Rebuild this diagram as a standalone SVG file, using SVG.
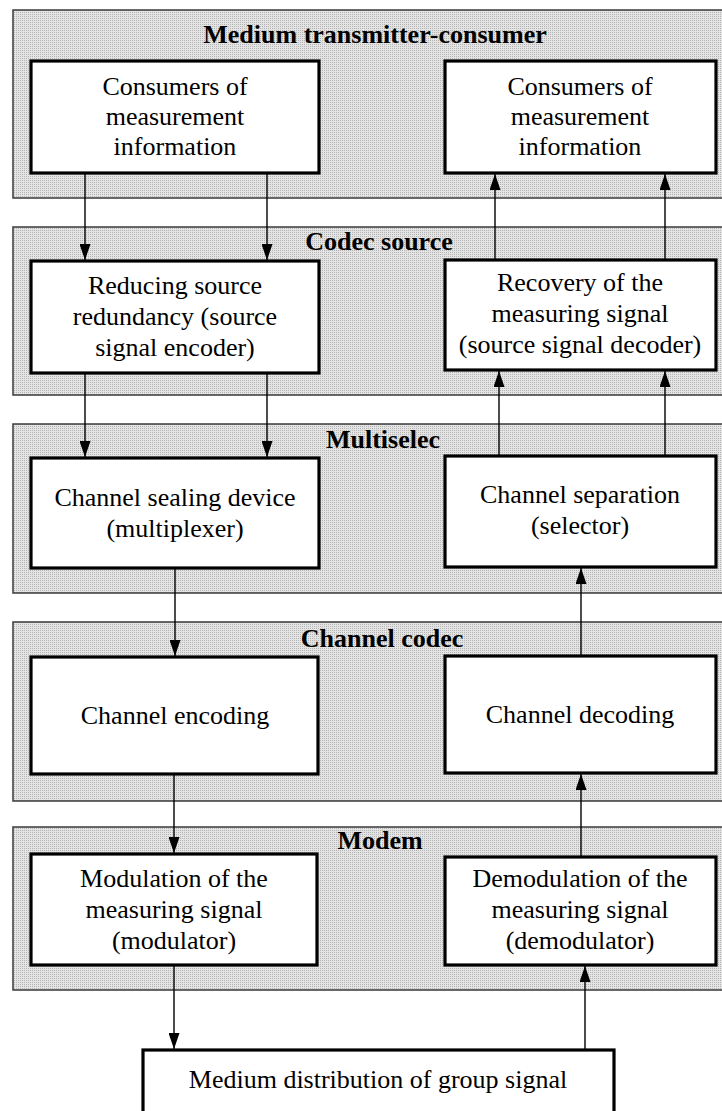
<svg xmlns="http://www.w3.org/2000/svg" width="722" height="1111" viewBox="0 0 722 1111">
<defs>
<pattern id="dots" patternUnits="userSpaceOnUse" width="2" height="2">
<rect width="2" height="2" fill="#e4e4e4"/>
<rect width="1" height="1" fill="#b4b4b4"/>
</pattern>
<marker id="ah" viewBox="0 0 16 11" refX="16" refY="5.5" markerWidth="16" markerHeight="11" markerUnits="userSpaceOnUse" orient="auto">
<path d="M0,0 L16,5.5 L0,11 Z" fill="#000"/>
</marker>
<style>
.panel{fill:url(#dots);stroke:#3a3a3a;stroke-width:1.5}
.box{fill:#fff;stroke:#000;stroke-width:3.2}
.t{font-family:"Liberation Serif","Times New Roman",serif;font-size:26px;fill:#000;text-anchor:middle}
.h{font-family:"Liberation Serif","Times New Roman",serif;font-size:26px;font-weight:bold;fill:#000;text-anchor:middle}
.c{fill:none;stroke:#000;stroke-width:1.4;marker-end:url(#ah)}
</style>
</defs>
<rect width="722" height="1111" fill="#fff"/>

<g id="panel-medium">
<rect class="panel" x="13" y="10" width="730" height="188"/>
<text class="h" x="375" y="43">Medium transmitter-consumer</text>
</g>
<g id="panel-codec-source">
<rect class="panel" x="13" y="227" width="730" height="168"/>
<text class="h" x="379" y="250">Codec source</text>
</g>
<g id="panel-multiselec">
<rect class="panel" x="13" y="424" width="730" height="169"/>
<text class="h" x="383" y="448">Multiselec</text>
</g>
<g id="panel-channel-codec">
<rect class="panel" x="13" y="622" width="730" height="179"/>
<text class="h" x="382" y="647">Channel codec</text>
</g>
<g id="panel-modem">
<rect class="panel" x="13" y="827" width="730" height="163"/>
<text class="h" x="380" y="849">Modem</text>
</g>

<g id="consumers-left">
<rect class="box" x="31" y="61" width="288" height="112"/>
<text class="t" x="175" y="95">Consumers of</text>
<text class="t" x="175" y="125">measurement</text>
<text class="t" x="175" y="155">information</text>
</g>
<g id="consumers-right">
<rect class="box" x="445" y="61" width="271" height="112"/>
<text class="t" x="580" y="95">Consumers of</text>
<text class="t" x="580" y="125">measurement</text>
<text class="t" x="580" y="155">information</text>
</g>
<g id="source-encoder">
<rect class="box" x="31" y="261" width="288" height="112"/>
<text class="t" x="175" y="294">Reducing source</text>
<text class="t" x="175" y="325">redundancy (source</text>
<text class="t" x="175" y="356">signal encoder)</text>
</g>
<g id="source-decoder">
<rect class="box" x="445" y="260" width="271" height="110"/>
<text class="t" x="580" y="291">Recovery of the</text>
<text class="t" x="580" y="322">measuring signal</text>
<text class="t" x="580" y="353">(source signal decoder)</text>
</g>
<g id="multiplexer">
<rect class="box" x="31" y="458" width="288" height="110"/>
<text class="t" x="175" y="506">Channel sealing device</text>
<text class="t" x="175" y="537">(multiplexer)</text>
</g>
<g id="selector">
<rect class="box" x="445" y="456" width="271" height="111"/>
<text class="t" x="580" y="503">Channel separation</text>
<text class="t" x="580" y="534">(selector)</text>
</g>
<g id="channel-encoding">
<rect class="box" x="31" y="657" width="287" height="117"/>
<text class="t" x="175" y="724">Channel encoding</text>
</g>
<g id="channel-decoding">
<rect class="box" x="445" y="656" width="271" height="117"/>
<text class="t" x="580" y="723">Channel decoding</text>
</g>
<g id="modulator">
<rect class="box" x="31" y="854" width="286" height="111"/>
<text class="t" x="174" y="887">Modulation of the</text>
<text class="t" x="174" y="918">measuring signal</text>
<text class="t" x="174" y="949">(modulator)</text>
</g>
<g id="demodulator">
<rect class="box" x="445" y="857" width="271" height="108"/>
<text class="t" x="580" y="887">Demodulation of the</text>
<text class="t" x="580" y="918">measuring signal</text>
<text class="t" x="580" y="949">(demodulator)</text>
</g>
<g id="medium-distribution">
<rect class="box" x="143" y="1050" width="471" height="80"/>
<text class="t" x="378" y="1088">Medium distribution of group signal</text>
</g>

<g id="connectors">
<line class="c" x1="85" y1="174" x2="85" y2="260"/>
<line class="c" x1="267" y1="174" x2="267" y2="260"/>
<line class="c" x1="85" y1="374" x2="85" y2="457"/>
<line class="c" x1="267" y1="374" x2="267" y2="457"/>
<line class="c" x1="175" y1="569" x2="175" y2="656"/>
<line class="c" x1="174" y1="775" x2="174" y2="853"/>
<line class="c" x1="174" y1="966" x2="174" y2="1049"/>
<line class="c" x1="585" y1="1049" x2="585" y2="966"/>
<line class="c" x1="581" y1="856" x2="581" y2="774"/>
<line class="c" x1="581" y1="655" x2="581" y2="568"/>
<line class="c" x1="499" y1="455" x2="499" y2="371"/>
<line class="c" x1="665" y1="455" x2="665" y2="371"/>
<line class="c" x1="495" y1="259" x2="495" y2="174"/>
<line class="c" x1="665" y1="259" x2="665" y2="174"/>
</g>
</svg>
